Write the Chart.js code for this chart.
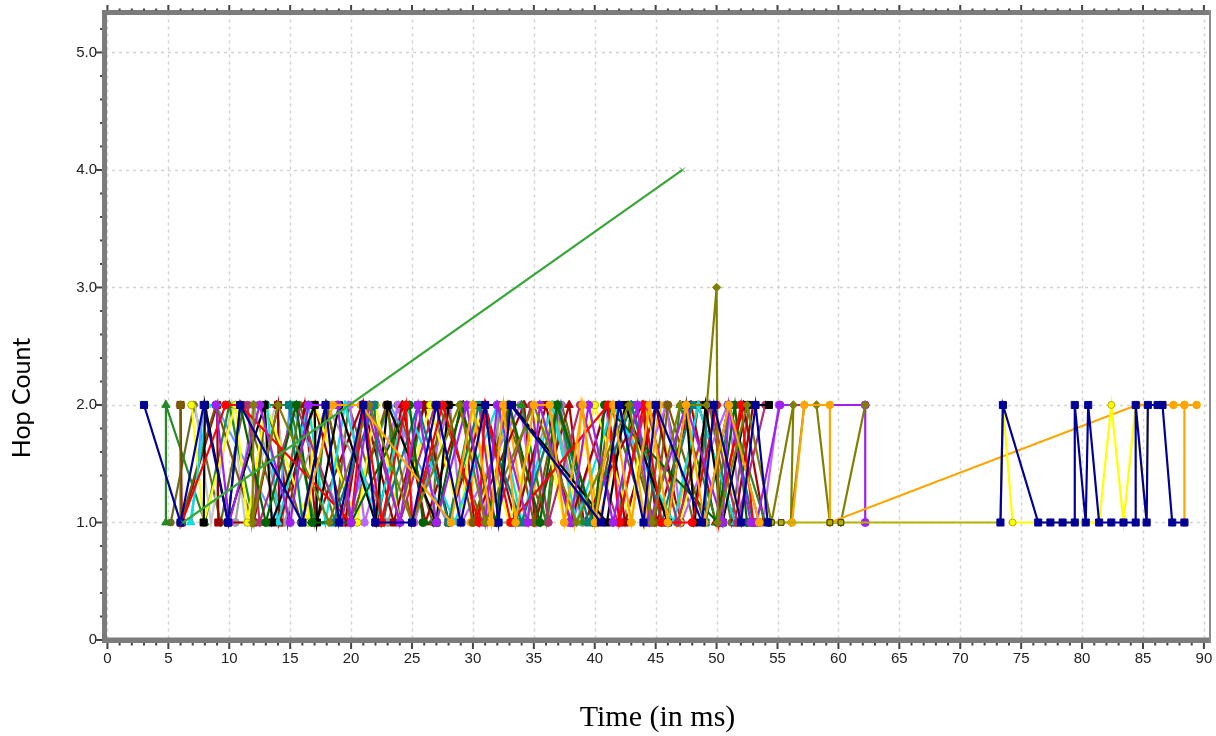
<!DOCTYPE html>
<html><head><meta charset="utf-8">
<script src="https://cdn.jsdelivr.net/npm/chart.js@4.4.1/dist/chart.umd.min.js"></script>
<style>html,body{margin:0;padding:0;background:#fff;overflow:hidden}</style>
</head><body>
<canvas id="c" width="1216" height="736"></canvas>
<script>
// ---- tick labels / titles ----
const xTicks = [0, 5, 10, 15, 20, 25, 30, 35, 40, 45, 50, 55, 60, 65, 70, 75, 80, 85, 90];
const yTicks = [0, 1, 2, 3, 4, 5];
const yTickLabels = ['0', '1.0', '2.0', '3.0', '4.0', '5.0'];
const xTitle = 'Time (in ms)';
const yTitle = 'Hop Count';

// ---- series values (time in ms, hop count) ----
const navyX = [3, 6, 7.9, 9.9, 10.9, 16, 17.9, 19, 21, 22, 25, 27, 29, 31, 32.1, 33.1, 40.5, 42, 44, 45, 48.8, 49.8, 52, 53.2, 54.2];
const navyY = [2, 1, 2, 1, 2, 1, 2, 1, 2, 1, 1, 2, 1, 2, 1, 2, 1, 2, 1, 2, 1, 2, 1, 2, 1];
const navy2X = [73.3, 73.5, 76.4, 77.4, 78.4, 79.4, 79.4, 80.3, 80.5, 81.4, 82.4, 83.4, 84.4, 84.4, 85.3, 85.4, 86.2, 86.6, 87.4, 88.4];
const navy2Y = [1, 2, 1, 1, 1, 1, 2, 1, 2, 1, 1, 1, 1, 2, 1, 2, 2, 2, 1, 1];
const greenTriX = [4.8, 4.8, 8, 10, 12, 13, 15, 17, 18, 20, 23, 24, 26, 28, 30, 34, 36, 37, 39, 42, 43, 46, 47, 50, 51, 54];
const greenTriY = [1, 2, 1, 2, 1, 2, 2, 1, 2, 1, 2, 1, 2, 1, 2, 2, 1, 2, 1, 1, 2, 1, 2, 1, 2, 1];
const darkRedX = [6, 6.1, 9, 9.1, 12, 14, 14.1, 17, 19.5, 21, 23.5, 26, 28, 31, 33.5, 36, 38, 41, 42.5, 45, 47, 48.5, 51.5, 53];
const darkRedY = [2, 1, 2, 1, 1, 2, 1, 2, 1, 2, 1, 2, 1, 2, 1, 2, 1, 2, 1, 2, 1, 2, 1, 2];
const brownX = [6, 6, 8.9, 11.9, 13, 15.9, 18, 20, 22.9, 25, 27.9, 30, 33, 35, 37, 40, 42, 44.9, 46, 49, 51, 53.5];
const brownY = [2, 1, 2, 1, 2, 1, 2, 1, 2, 1, 2, 1, 2, 1, 2, 1, 2, 1, 2, 1, 2, 1];
const yellowX = [6.9, 7.9, 10.5, 11.5, 13, 16.5, 17, 20.5, 22, 24, 26.5, 29, 30, 33, 35.5, 37.5, 40, 43, 44, 47, 49.5, 52];
const yellowY = [2, 1, 2, 1, 2, 1, 2, 1, 2, 1, 2, 1, 2, 1, 2, 1, 2, 1, 2, 1, 2, 1];
const yellow2X = [73.5, 74.3, 81.4, 82.4, 83.4, 84.4, 85.3, 85.4, 86.2];
const yellow2Y = [2, 1, 1, 2, 1, 2, 1, 2, 2];
const purpleX = [8.9, 10, 12.5, 15, 16.5, 18.9, 20, 21.5, 24, 25.5, 27, 29.5, 31, 32, 34.5, 35.5, 38, 39.5, 41.5, 43.5, 44.5, 47.5, 50.5, 51, 52.8, 53.3, 55.2, 62.2, 62.2];
const purpleY = [2, 1, 2, 1, 2, 2, 1, 2, 1, 2, 1, 2, 1, 2, 1, 2, 1, 2, 1, 2, 1, 2, 1, 2, 1, 1, 2, 2, 1];
const blackX = [7.9, 8, 9.9, 12.9, 13.5, 17, 17.2, 19, 22, 23, 27, 28, 33.2, 41, 42.5, 46, 47.5, 48.2, 49.1, 50.5, 52.5, 54.3];
const blackY = [1, 2, 1, 2, 1, 2, 1, 2, 1, 2, 1, 2, 2, 1, 2, 1, 2, 1, 2, 1, 2, 2];
const redX = [6.1, 9.7, 10.9, 20, 21, 22.5, 24.5, 25, 27.5, 30.5, 31, 33.1, 41.1, 42, 44, 45.5, 48, 50, 50.2, 52, 53];
const redY = [1, 2, 2, 1, 2, 1, 2, 1, 2, 1, 2, 1, 2, 1, 2, 1, 1, 2, 1, 2, 1];
const cyanX = [6.8, 8.2, 13.1, 14, 16.5, 17.9, 19.5, 22, 24.5, 28.5, 32, 34, 36.5, 38.5, 41.5, 46.5, 48.5, 51.5];
const cyanY = [1, 2, 2, 1, 2, 1, 2, 1, 2, 1, 2, 1, 2, 1, 2, 1, 2, 1];
const orangeX = [16, 18.5, 20.8, 28.2, 30, 31.5, 32.5, 33.5, 35, 36.3, 37.5, 39, 40, 41.5, 43, 44.5, 46, 47.5, 49, 51, 53.5, 56.2, 57.2, 59.3, 59.3, 84.5, 85.4, 87.5, 88.4, 88.4, 88.4, 89.4];
const orangeY = [1, 2, 2, 1, 2, 1, 2, 1, 2, 2, 1, 2, 1, 2, 1, 2, 1, 2, 1, 2, 1, 1, 2, 2, 1, 2, 2, 2, 2, 1, 2, 2];
const grayX = [10.5, 12, 14.5, 18, 23, 26, 32, 32.1, 33.2, 36.5, 39];
const grayY = [1, 2, 1, 2, 1, 2, 2, 1, 1, 2, 1];
const greenCrossX = [6.2, 47.2];
const greenCrossY = [1, 4];
const darkGreenX = [9.9, 10.9, 13, 15.5, 16.8, 20, 24.8, 25.9, 27, 29, 31.9, 33, 35.5, 36.9, 40, 40.8, 50.1, 51.5, 52.5, 54.3];
const darkGreenY = [1, 2, 1, 2, 1, 1, 2, 1, 1, 2, 1, 2, 1, 2, 1, 2, 1, 2, 1, 1];
const tealX = [14.9, 16, 18.5, 21.9, 22.5, 25.5, 28, 30.5, 34, 37, 39.5, 43, 45.5, 48, 49.1, 49.1, 51, 53];
const tealY = [2, 1, 1, 2, 1, 2, 1, 2, 1, 2, 1, 2, 1, 2, 2, 1, 2, 1];
const magentaX = [11.5, 12.5, 15.5, 19.2, 21.2, 24, 26.9, 30.5, 31.8, 34.8, 36.2, 38.8, 41.9, 44.2, 46.8, 49.5, 51.7, 54];
const magentaY = [2, 1, 2, 1, 2, 1, 2, 2, 1, 2, 1, 2, 1, 2, 1, 2, 1, 2];
const oliveX = [12, 11.9, 14, 18.2, 21.5, 25, 28.9, 31, 35, 38.5, 42.8, 44.7, 47, 49.2, 50, 50.1, 52.5, 54.5, 56.3, 56.1, 57.2, 58.2, 59.3, 60.2, 62.2];
const oliveY = [2, 1, 2, 1, 2, 1, 2, 1, 2, 1, 2, 1, 2, 2, 3, 1, 2, 1, 2, 1, 2, 2, 1, 1, 2];
const khakiX = [54.5, 55.3, 59.3, 60.2, 73.3, 73.5];
const khakiY = [1, 1, 1, 1, 1, 2];
const lightBlueX = [6.9, 7.9, 8.9, 13.9, 15, 19.5, 23.2, 27.9];
const lightBlueY = [1, 2, 2, 1, 2, 1, 2, 1];
const lightGrayX = [7.2, 8.5, 10.2, 11.3, 13.8, 15.2];
const lightGrayY = [2, 1, 2, 1, 2, 1];
const maroonX = [13.9, 14.8, 16.2, 17.1, 20.9, 22.1, 24.2, 26.1, 29.2, 30.1, 34.2, 35.1, 37.9, 39.1, 43.9, 45.1, 47.9, 49.9, 52.2, 53.9];
const maroonY = [2, 1, 2, 1, 2, 1, 2, 1, 2, 1, 2, 1, 2, 1, 2, 1, 2, 1, 2, 1];
const lavenderX = [19.9, 21.1, 23.9, 25.2, 28.1, 29.1, 33.9, 35.2, 37.2, 38.2, 40.9, 42.2, 45.9, 47.1, 50.9, 52.1, 53.8, 55.1];
const lavenderY = [2, 1, 2, 1, 2, 1, 2, 1, 2, 1, 2, 1, 2, 1, 2, 1, 1, 2];
const amberX = [29.8, 30.2, 31.2, 32.8, 34.3, 36.8, 38.3, 38.9, 40.3, 42.7, 44.1, 45.3, 46.7, 48.4];
const amberY = [1, 2, 1, 2, 1, 2, 1, 2, 1, 2, 1, 2, 1, 2];
const oliveDrabX = [5.2, 7.1, 9.3, 11.2, 14.3, 15.8, 18.7, 19.8, 22.7, 23.8, 26.7, 27.2, 30.8, 32.3, 36.1, 37.3, 39.8, 41.3, 44.3, 45.8, 48.1, 49.4, 51.2, 52.7];
const oliveDrabY = [1, 2, 1, 2, 1, 2, 1, 2, 1, 2, 1, 2, 1, 2, 1, 2, 1, 2, 1, 2, 1, 2, 1, 2];

// ---- series styling ----
const seriesDefs = [
  {xs: greenCrossX, ys: greenCrossY, color: '#3AA63A', shape: 'crossRot', r: 3.5},
  {xs: navy2X, ys: navy2Y, color: '#000099', shape: 'rect', r: 5},
  {xs: navyX, ys: navyY, color: '#000099', shape: 'rect', r: 5},
  {xs: khakiX, ys: khakiY, color: '#B4B400', shape: 'rect', r: 4, border: '#333300'},
  {xs: yellow2X, ys: yellow2Y, color: '#FFFF00', shape: 'circle', r: 3.5, border: '#B0B000'},
  {xs: orangeX, ys: orangeY, color: '#FFA500', shape: 'circle', r: 3.8},
  {xs: oliveX, ys: oliveY, color: '#808000', shape: 'rectRot', r: 4.2},
  {xs: purpleX, ys: purpleY, color: '#A020F0', shape: 'circle', r: 4},
  {xs: redX, ys: redY, color: '#FF0000', shape: 'circle', r: 4},
  {xs: darkGreenX, ys: darkGreenY, color: '#006400', shape: 'circle', r: 4},
  {xs: blackX, ys: blackY, color: '#000000', shape: 'rect', r: 5},
  {xs: tealX, ys: tealY, color: '#008080', shape: 'rect', r: 5},
  {xs: magentaX, ys: magentaY, color: '#B03070', shape: 'circle', r: 3.8},
  {xs: cyanX, ys: cyanY, color: '#00E5E5', shape: 'triangle', r: 4.5},
  {xs: yellowX, ys: yellowY, color: '#FFFF00', shape: 'circle', r: 3.8, border: '#B0B000'},
  {xs: brownX, ys: brownY, color: '#7A5C00', shape: 'circle', r: 4},
  {xs: darkRedX, ys: darkRedY, color: '#990000', shape: 'rect', r: 5},
  {xs: greenTriX, ys: greenTriY, color: '#228B22', shape: 'triangle', r: 4.8},
  {xs: grayX, ys: grayY, color: '#A0A0A0', shape: 'circle', r: 4},
  {xs: lightBlueX, ys: lightBlueY, color: '#6699FF', shape: 'triangle', r: 4},
  {xs: lightGrayX, ys: lightGrayY, color: '#C8C8C8', shape: 'circle', r: 0},
  {xs: maroonX, ys: maroonY, color: '#B00000', shape: 'triangle', r: 4.8},
  {xs: lavenderX, ys: lavenderY, color: '#BB66FF', shape: 'circle', r: 3.8},
  {xs: amberX, ys: amberY, color: '#FFB000', shape: 'circle', r: 3.8},
  {xs: oliveDrabX, ys: oliveDrabY, color: '#6B6B23', shape: 'circle', r: 3.5}
];

const datasets = seriesDefs.map((s, i) => ({
  label: 'Series ' + (i + 1),
  data: s.xs.map((x, k) => ({x: x, y: s.ys[k]})),
  showLine: true,
  tension: 0,
  borderColor: s.color,
  backgroundColor: s.color,
  borderWidth: 2.2,
  pointStyle: s.shape,
  pointRadius: s.r,
  pointBackgroundColor: s.color,
  pointBorderColor: s.border || s.color,
  pointBorderWidth: 1
}));

const framePlugin = {
  id: 'frame',
  beforeDatasetsDraw(chart) {
    const {ctx, chartArea: a, scales: {x, y}} = chart;
    ctx.save();
    ctx.strokeStyle = '#d2d2d2';
    ctx.lineWidth = 1.5;
    ctx.setLineDash([3, 4]);
    xTicks.forEach(v => {
      const px = Math.round(x.getPixelForValue(v)) + 0.5;
      ctx.beginPath(); ctx.moveTo(px, a.top); ctx.lineTo(px, a.bottom); ctx.stroke();
    });
    yTicks.forEach(v => {
      if (v === 0) return;
      const py = Math.round(y.getPixelForValue(v)) + 0.5;
      ctx.beginPath(); ctx.moveTo(a.left, py); ctx.lineTo(a.right, py); ctx.stroke();
    });
    ctx.restore();
  },
  afterDatasetsDraw(chart) {
    const {ctx, chartArea: a, scales: {x, y}} = chart;
    ctx.save();
    ctx.fillStyle = '#7c7c7c';
    ctx.fillRect(a.left - 3, a.top - 2.5, 5, a.bottom - a.top + 5.5);
    ctx.fillRect(a.left - 3, a.bottom - 2.5, a.right - a.left + 4, 5.5);
    ctx.fillRect(a.left - 3, a.top - 2.5, a.right - a.left + 4, 5);
    ctx.fillStyle = '#8a8a8a';
    ctx.fillRect(a.right - 1, a.top - 2.5, 2, a.bottom - a.top + 5);
    ctx.fillStyle = '#444';
    for (let k = 0; k <= 90; k++) {
      const px = x.getPixelForValue(k);
      if (k % 5 === 0) {
        ctx.fillRect(px - 1, a.top - 7.5, 2, 5);
        ctx.fillRect(px - 1, a.bottom + 3, 2, 6);
      } else {
        ctx.fillRect(px - 1, a.top - 4, 2, 2);
        ctx.fillRect(px - 1, a.bottom + 3, 2, 2.5);
      }
    }
    for (let k = 0; k <= 26; k++) {
      const py = y.getPixelForValue(k / 5);
      if (k % 5 === 0) ctx.fillRect(a.left - 9, py - 1, 6, 2);
      else ctx.fillRect(a.left - 5, py - 1, 2, 2);
    }
    ctx.restore();
  },
  afterDraw(chart) {
    const {ctx, chartArea: a} = chart;
    ctx.save();
    ctx.fillStyle = '#000';
    ctx.textAlign = 'center';
    ctx.textBaseline = 'middle';
    ctx.font = '30px "Liberation Serif", "Times New Roman", serif';
    ctx.fillText(xTitle, (a.left + a.right) / 2, 718);
    ctx.translate(22, 398);
    ctx.rotate(-Math.PI / 2);
    ctx.font = '25px Lato, "Liberation Sans", sans-serif';
    ctx.fillText(yTitle, 0, 0);
    ctx.restore();
  }
};

const tickFont = {family: '"Liberation Sans", Arial, sans-serif', size: 15};

new Chart(document.getElementById('c'), {
  type: 'scatter',
  data: {datasets: datasets},
  options: {
    responsive: false,
    animation: false,
    devicePixelRatio: 1,
    layout: {padding: {left: 0, right: 4, top: 12.5, bottom: 0}},
    plugins: {legend: {display: false}, tooltip: {enabled: false}},
    scales: {
      x: {
        type: 'linear', min: -0.2, max: 90.5,
        grid: {display: false, drawTicks: false},
        border: {display: false},
        ticks: {font: tickFont, color: '#222', padding: 10, autoSkip: false, maxRotation: 0,
          callback: v => String(v)},
        afterBuildTicks: s => { s.ticks = xTicks.map(v => ({value: v})); },
        afterFit: s => { s.height = 96; s.paddingLeft = 0; s.paddingRight = 0; }
      },
      y: {
        type: 'linear', min: 0, max: 5.34,
        grid: {display: false, drawTicks: false},
        border: {display: false},
        ticks: {font: tickFont, color: '#222', padding: 8, autoSkip: false,
          callback: v => yTickLabels[yTicks.indexOf(v)]},
        afterBuildTicks: s => { s.ticks = yTicks.map(v => ({value: v})); },
        afterFit: s => { s.width = 105; s.paddingTop = 0; s.paddingBottom = 0; }
      }
    }
  },
  plugins: [framePlugin]
});
</script>
</body></html>
